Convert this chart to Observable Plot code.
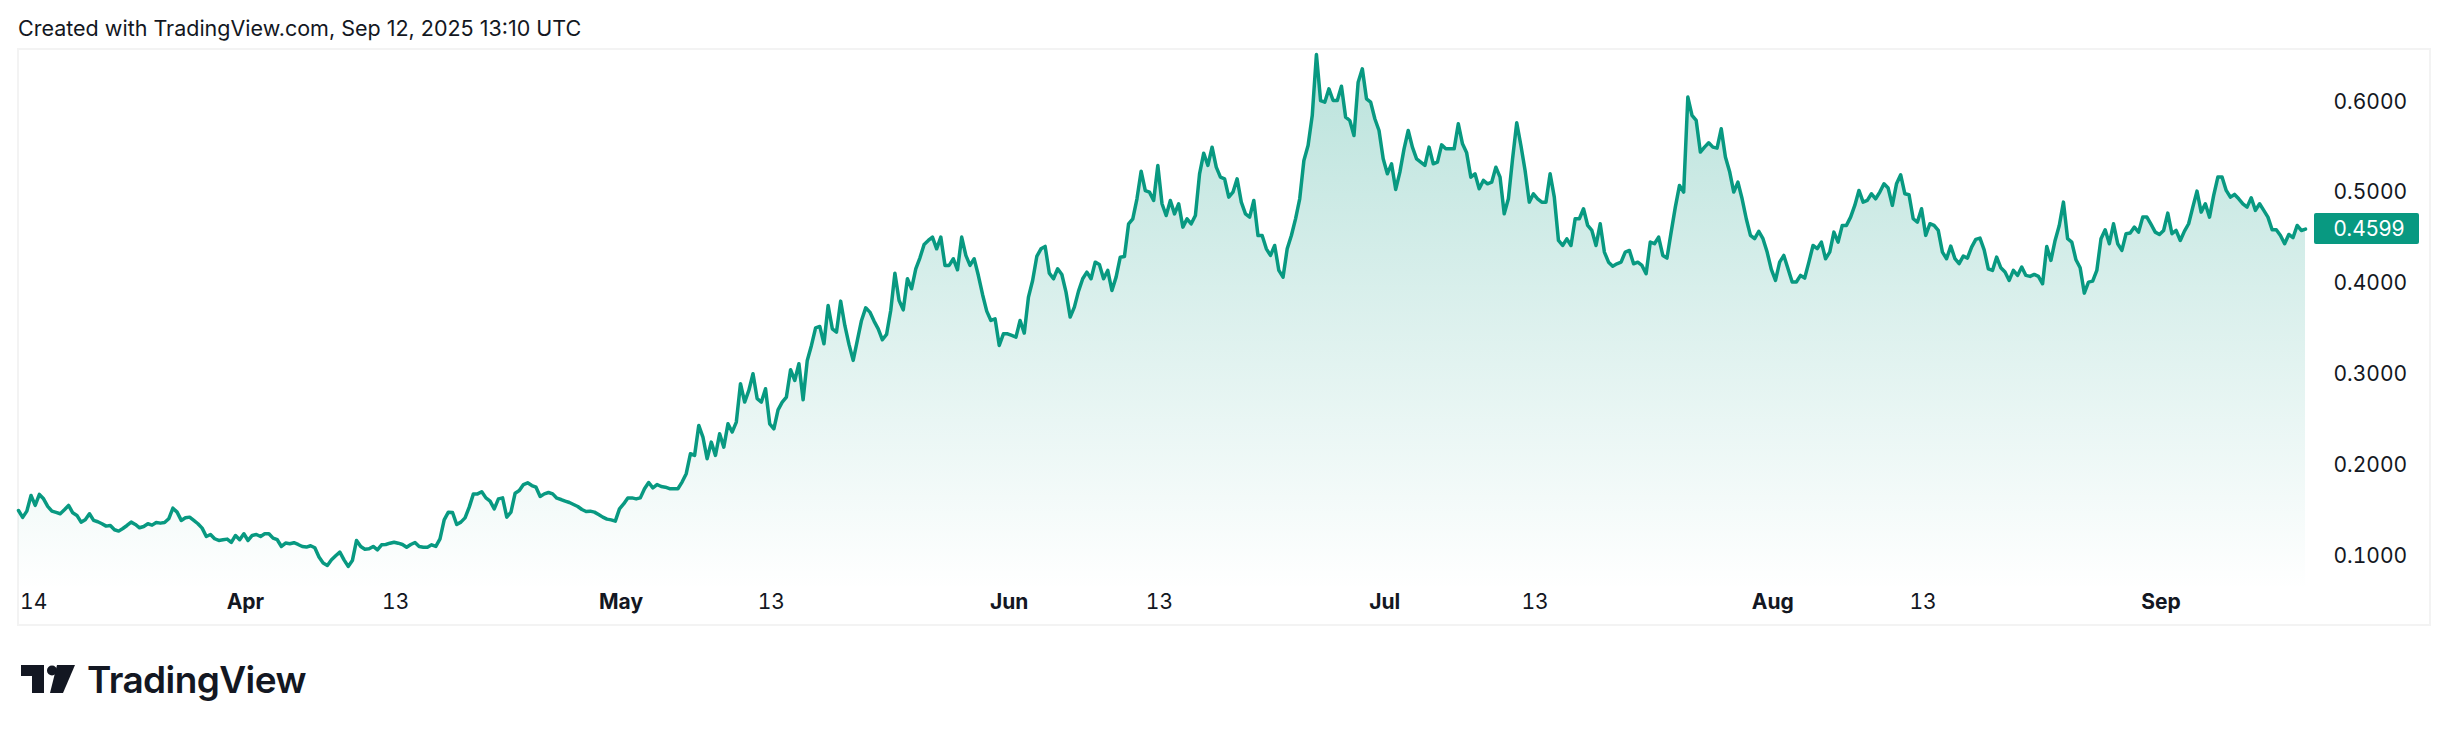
<!DOCTYPE html>
<html>
<head>
<meta charset="utf-8">
<script src="https://cdn.jsdelivr.net/npm/d3@7"></script>
<script src="https://cdn.jsdelivr.net/npm/@observablehq/plot@0.6"></script>
<style>
  body { margin: 0; background: #fff; font-family: Inter, sans-serif; color: #131722; }
  #page { position: relative; width: 2448px; height: 733px; overflow: hidden; }
  #stamp { position: absolute; left: 18px; top: 16px; font-size: 21.5px; line-height: 24px; white-space: nowrap; }
  #frame { position: absolute; left: 17px; top: 48px; width: 2414px; height: 578px; box-sizing: border-box; border: 2px solid #f3f3f3; }
  #chart { position: absolute; left: 17px; top: 48px; }
  #logo { position: absolute; left: 21px; top: 665px; }
  #brand { position: absolute; left: 87px; top: 657px; font-size: 37px; line-height: 46px; font-weight: 600; letter-spacing: -0.6px; white-space: nowrap; }
</style>
</head>
<body>
<div id="page">
  <div id="stamp">Created with TradingView.com, Sep 12, 2025 13:10 UTC</div>
  <div id="frame"></div>
  <div id="chart"></div>
  <svg id="logo" width="56" height="28" viewBox="0 0 56 28" fill="#131722">
    <path d="M0 0H23V28H11V11H0Z"/>
    <circle cx="31" cy="5.5" r="5"/>
    <path d="M36 0H54L42 28H29Z"/>
  </svg>
  <div id="brand">TradingView</div>
</div>
<script>
// price every 8 hours
let midMarch = [
  0.1500,0.1424,0.1493,0.1666,0.1556,0.1677,0.1629,0.1545,0.1493,0.1479,
  0.1464,0.1508,0.1556,0.1475,0.1446,0.1372,0.1398,0.1464,0.1391,0.1376,
  0.1354,0.1328,0.1335,0.1288,0.1273,0.1302,0.1335,0.1372,0.1346,0.1310,
  0.1324,0.1354,0.1339,0.1368,0.1361,0.1368,0.1409,0.1526,0.1482,0.1391,
  0.1420,0.1427,0.1391,0.1354,0.1306,0.1214,0.1236,0.1189,0.1170,0.1178,
  0.1185,0.1148,0.1225,0.1178,0.1244,0.1170,0.1225,0.1236,0.1214,0.1244,
  0.1244,0.1196,0.1178,0.1104,0.1141,0.1134,0.1145,0.1126,0.1104,0.1097,
  0.1112,0.1090,0.0987,0.0921,0.0895,0.0957,0.1001,0.1042,0.0957,0.0884
];
let midApril = [
  0.0949,0.1170,0.1104,0.1074,0.1078,0.1104,0.1067,0.1122,0.1126,0.1140,
  0.1151,0.1140,0.1126,0.1096,0.1126,0.1148,0.1104,0.1096,0.1096,0.1122,
  0.1104,0.1188,0.1397,0.1482,0.1478,0.1346,0.1372,0.1419,0.1537,0.1683,
  0.1683,0.1706,0.1639,0.1603,0.1518,0.1628,0.1639,0.1427,0.1482,0.1691,
  0.1720,0.1786,0.1805,0.1775,0.1757,0.1654,0.1683,0.1698,0.1683,0.1636,
  0.1621,0.1603,0.1588,0.1566,0.1544,0.1511,0.1489,0.1493,0.1482,0.1456,
  0.1427,0.1405,0.1397,0.1383,0.1518,0.1573,0.1639,0.1639,0.1628,0.1639,
  0.1739,0.1808,0.1750,0.1786,0.1764,0.1757
];
let midMay = [
  0.1740,0.1740,0.1740,0.1813,0.1905,0.2125,0.2107,0.2437,0.2309,0.2070,
  0.2253,0.2107,0.2345,0.2198,0.2455,0.2364,0.2474,0.2896,0.2694,0.2822,
  0.3006,0.2731,0.2694,0.2841,0.2455,0.2400,0.2609,0.2694,0.2749,0.3050,
  0.2932,0.3116,0.2720,0.3153,0.3318,0.3512,0.3527,0.3336,0.3758,0.3501,
  0.3465,0.3806,0.3538,0.3329,0.3153,0.3373,0.3593,0.3732,0.3685,0.3586,
  0.3501,0.3380,0.3439,0.3703,0.4114,0.3813,0.3710,0.4052,0.3942,0.4162,
  0.4283,0.4430,0.4474,0.4511,0.4382,0.4511,0.4199,0.4199,0.4272,0.4151,
  0.4511,0.4309,0.4199,0.4272,0.4088,0.3879,0.3696,0.3593,0.3611,0.3318
];
let juneRun = [
  0.3446,0.3446,0.3428,0.3410,0.3593,0.3454,0.3850,0.4033,0.4298,0.4382,
  0.4408,0.4114,0.4052,0.4162,0.4099,0.3905,0.3630,0.3740,0.3916,0.4052,
  0.4125,0.4052,0.4235,0.4210,0.4052,0.4144,0.3923,0.4070,0.4290,0.4298,
  0.4657,0.4712,0.4933,0.5237,0.5024,0.5006,0.4914,0.5300,0.4878,0.4749,
  0.4914,0.4767,0.4878,0.4621,0.4712,0.4657,0.4749,0.5208,0.5435,0.5300,
  0.5501,0.5281,0.5171,0.5153,0.4951,0.5006,0.5153,0.4896,0.4767,0.4731,
  0.4914,0.4529,0.4529,0.4382,0.4309,0.4419,0.4144,0.4070,0.4382,0.4529,
  0.4712,0.4933,0.5355,0.5520,0.5850,0.6522,0.6015,0.5997
];
let julyPeak = [
  0.6144,0.6015,0.6015,0.6173,0.5832,0.5795,0.5630,0.6217,0.6364,0.6034,
  0.5997,0.5814,0.5685,0.5373,0.5208,0.5318,0.5036,0.5226,0.5483,0.5685,
  0.5502,0.5373,0.5337,0.5300,0.5502,0.5318,0.5337,0.5527,0.5483,0.5483,
  0.5483,0.5759,0.5538,0.5439,0.5171,0.5208,0.5043,0.5135,0.5098,0.5116,
  0.5281,0.5171,0.4768,0.4933,0.5373,0.5770,0.5520,0.5245,0.4896,0.4988,
  0.4933,0.4896,0.4896,0.5208,0.4951,0.4474,0.4419,0.4492,0.4419,0.4713,
  0.4713,0.4823,0.4639,0.4584,0.4419,0.4658,0.4346,0.4235,0.4191,0.4217,
  0.4235,0.4346,0.4364,0.4217,0.4235,0.4199,0.4107,0.4456
];
let lateJuly = [
  0.4438,0.4511,0.4309,0.4280,0.4566,0.4841,0.5080,0.5007,0.6053,0.5851,
  0.5796,0.5447,0.5502,0.5550,0.5502,0.5491,0.5704,0.5392,0.5234,0.5007,
  0.5117,0.4933,0.4713,0.4530,0.4493,0.4574,0.4493,0.4346,0.4155,0.4034,
  0.4236,0.4309,0.4162,0.4016,0.4016,0.4089,0.4060,0.4236,0.4419,0.4383,
  0.4456,0.4273,0.4346,0.4566,0.4456,0.4640,0.4640,0.4731,0.4860,0.5025,
  0.4896,0.4915,0.4988,0.4933,0.5007,0.5098,0.5051,0.4860,0.5098,0.5197,
  0.4988,0.4977,0.4713,0.4676,0.4823,0.4530,0.4658,0.4640,0.4585,0.4346,
  0.4273,0.4412,0.4273,0.4218,0.4302,0.4280,0.4401,0.4486,0.4500
];
let lateAugust = [
  0.4371,0.4162,0.4144,0.4291,0.4173,0.4126,0.4034,0.4144,0.4089,0.4181,
  0.4089,0.4078,0.4100,0.4078,0.3997,0.4408,0.4254,0.4474,0.4639,0.4896,
  0.4493,0.4456,0.4261,0.4173,0.3894,0.4015,0.4026,0.4144,0.4493,0.4592,
  0.4438,0.4658,0.4438,0.4364,0.4548,0.4555,0.4621,0.4566,0.4731,0.4731,
  0.4650,0.4566,0.4540,0.4584,0.4775,0.4548,0.4584,0.4474,0.4577,0.4658,
  0.4841,0.5017,0.4786,0.4878,0.4731,0.4970,0.5172,0.5172,0.5025,0.4951,
  0.4981,0.4933,0.4878,0.4841,0.4944,0.4805,0.4878,0.4805,0.4731,0.4592,
  0.4592,0.4529,0.4438,0.4540,0.4504,0.4639,0.4584,0.4599
];

let yTicks = [0.1, 0.2, 0.3, 0.4, 0.5, 0.6];
let monthTicks = ["2025-04-01", "2025-05-01", "2025-06-01", "2025-07-01", "2025-08-01", "2025-09-01"];
let midTicks = ["2025-04-13", "2025-05-13", "2025-06-13", "2025-07-13", "2025-08-13"];
let firstTick = ["2025-03-14"];

let prices = [...midMarch, ...midApril, ...midMay, ...juneRun, ...julyPeak, ...lateJuly, ...lateAugust];
let startDate = new Date("2025-03-13T21:00Z");
let data = prices.map((price, i) => ({ date: d3.utcHour.offset(startDate, i * 8), price }));
let last = data[data.length - 1];
let yDomain = [0.0619, 0.6566];
let green = "#089981";

function toDates(list) {
  return list.map(d => new Date(d + "T00:00Z"));
}

function createChart() {
  let xTickStyle = { anchor: "bottom", tickSize: 0, tickPadding: 4, label: null, fontSize: 21, fill: "#131722" };

  let chart = Plot.plot({
    width: 2414,
    height: 578,
    marginLeft: 1,
    marginRight: 126,
    marginTop: 2,
    marginBottom: 36,
    style: { fontFamily: "Inter, sans-serif", background: "transparent", overflow: "visible" },
    x: { type: "utc", domain: [startDate, last.date] },
    y: { domain: yDomain },
    marks: [
      // gradient for the area
      () => {
        let defs = d3.create("svg:defs");
        let grad = defs.append("linearGradient").attr("id", "areaFade")
          .attr("x1", 0).attr("y1", 0).attr("x2", 0).attr("y2", 1);
        grad.append("stop").attr("offset", 0).attr("stop-color", green).attr("stop-opacity", 0.28);
        grad.append("stop").attr("offset", 1).attr("stop-color", green).attr("stop-opacity", 0);
        return defs.node();
      },
      Plot.areaY(data, { x: "date", y1: yDomain[0], y2: "price", fill: "url(#areaFade)" }),
      Plot.lineY(data, { x: "date", y: "price", stroke: green, strokeWidth: 3.5, strokeLinejoin: "round" }),
      Plot.axisY({
        anchor: "right", ticks: yTicks, tickFormat: d3.format(".4f"), tickSize: 0, tickPadding: 28,
        label: null, fontSize: 21, fill: "#131722"
      }),
      Plot.axisX({ ...xTickStyle, ticks: toDates(firstTick), tickFormat: d3.utcFormat("%d"), textAnchor: "start" }),
      Plot.axisX({ ...xTickStyle, ticks: toDates(midTicks), tickFormat: d3.utcFormat("%d") }),
      Plot.axisX({ ...xTickStyle, ticks: toDates(monthTicks), tickFormat: d3.utcFormat("%b"), fontWeight: 700 }),
      // last price tag on the axis
      (index, { x, y }) => {
        return d3.create("svg:rect")
          .attr("x", x(last.date) + 9)
          .attr("y", y(last.price) - 15.5)
          .attr("width", 105)
          .attr("height", 31)
          .attr("rx", 2)
          .attr("fill", green)
          .node();
      },
      Plot.text([last], {
        x: "date", y: "price", text: d => d3.format(".4f")(d.price),
        dx: 28, textAnchor: "start", fill: "white", fontSize: 21
      })
    ]
  });

  d3.select("#chart").append(() => chart);
}

createChart();
</script>
</body>
</html>
